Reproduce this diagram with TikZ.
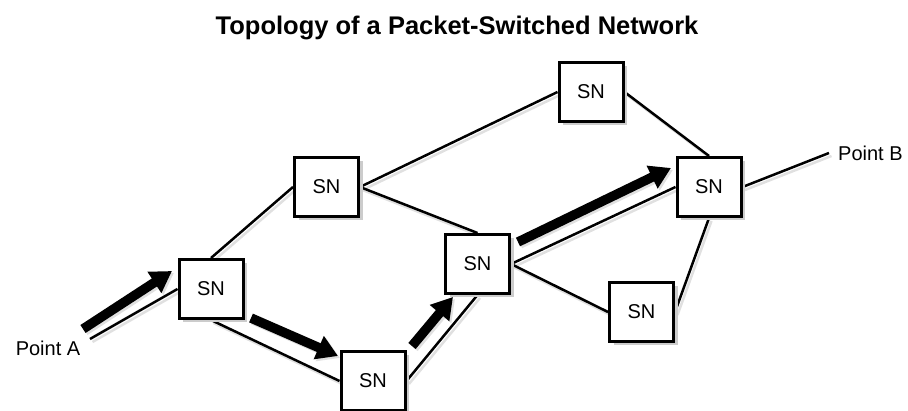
\documentclass[tikz,border=0pt]{standalone}
\usepackage{fontspec}
\setmainfont{Liberation Sans}
\usetikzlibrary{arrows.meta,shadows}
\tikzset{
  sn/.style={draw, line width=3pt, fill=white, minimum width=64pt, minimum height=59pt,
    inner sep=0pt, font=\fontsize{20}{24}\selectfont,
    drop shadow={fill=black!20, shadow xshift=4pt, shadow yshift=-4pt, opacity=1}},
  link/.style={line width=2.5pt,
    preaction={draw=black!12, line width=2.5pt, transform canvas={xshift=2.5pt, yshift=-3pt}}},
  flow/.style={line width=9.5pt, -{Triangle[length=21pt, width=24pt]},
    preaction={draw=black!12, line width=9.5pt, -{Triangle[length=21pt, width=24pt]}, transform canvas={xshift=2pt, yshift=-2pt}}},
  lbl/.style={font=\fontsize{20}{24}\selectfont, inner sep=0pt},
}
\begin{document}
\begin{tikzpicture}[x=1pt, y=-1pt]
\useasboundingbox (0,0) rectangle (908,411);
\node[font=\bfseries\fontsize{25.5}{30}\selectfont, anchor=base, inner sep=0pt] (title) at (457,35) {Topology of a Packet-Switched Network};

\node[sn] (nL)  at (211,289)   {SN};
\node[sn] (nUL) at (326.5,187) {SN};
\node[sn] (nT)  at (591,92)    {SN};
\node[sn] (nR)  at (709,187)   {SN};
\node[sn] (nM)  at (477.5,264) {SN};
\node[sn] (nBR) at (641.5,312) {SN};
\node[sn] (nB)  at (373,381)   {SN};

\coordinate (pA) at (90,339);
\coordinate (pB) at (829,153);
\node[lbl] (labA) at (48,348) {Point A};
\node[lbl, anchor=west] (labB) at (838,153) {Point B};

\draw[link] (pA) -- (nL.west);
\draw[link] (nL.north) -- (nUL.west);
\draw[link] (nL.south) -- (nB.west);
\draw[link] (nB.east) -- (nM.south);
\draw[link] (nUL.east) -- (nT.west);
\draw[link] (nUL.east) -- (nM.north);
\draw[link] (nT.east) -- (nR.north);
\draw[link] (nM.east) -- (nR.west);
\draw[link] (nM.east) -- (nBR.west);
\draw[link] (nBR.east) -- (nR.south);
\draw[link] (nR.east) -- (pB);

\coordinate (a1s) at (83,329);  \coordinate (a1e) at (172,271);
\coordinate (a2s) at (251,318); \coordinate (a2e) at (338,356);
\coordinate (a3s) at (412,346); \coordinate (a3e) at (453,297);
\coordinate (a4s) at (518,242); \coordinate (a4e) at (671,168);
\draw[flow] (a1s) -- (a1e);
\draw[flow] (a2s) -- (a2e);
\draw[flow] (a3s) -- (a3e);
\draw[flow] (a4s) -- (a4e);

\foreach \n in {nL,nUL,nT,nR,nM,nBR,nB} {\node[sn] at (\n) {SN};}
\end{tikzpicture}
\end{document}
